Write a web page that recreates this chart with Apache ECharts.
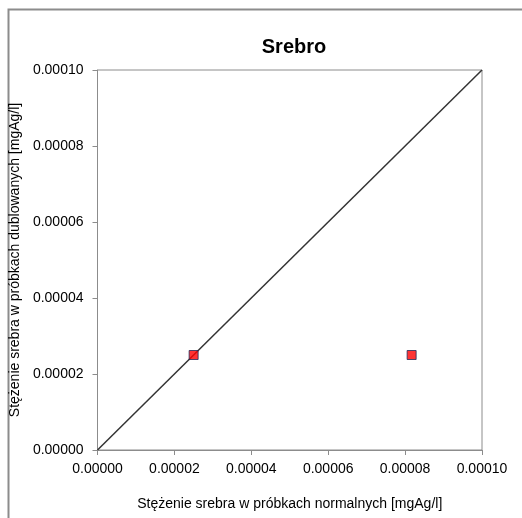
<!DOCTYPE html>
<html><head><meta charset="utf-8">
<script src="https://cdn.jsdelivr.net/npm/echarts@6/dist/echarts.min.js"></script>
<style>html,body{margin:0;padding:0;background:#fff}#c{width:522px;height:518px}</style>
</head><body><div id="c"></div>
<script>
const title = "Srebro";
const xName = "Stężenie srebra w próbkach normalnych [mgAg/l]";
const yName = "Stężenie srebra w próbkach dublowanych [mgAg/l]";
const normalne = [0.0000250, 0.0000817];
const dublowane = [0.0000250, 0.0000250];
const lineX = [0, 0.0001];
const lineY = [0, 0.0001];
const axisMin = 0, axisMax = 0.0001, axisStep = 0.00002;

const chart = echarts.init(document.getElementById('c'), null, {renderer:'canvas'});
const font = 'Liberation Sans, Arial, sans-serif';
chart.setOption({
  backgroundColor:'#fff',
  animation:false,
  title:{text:title,left:289,top:32,textAlign:'center',textStyle:{fontFamily:font,fontSize:20,fontWeight:'bold',color:'#000'}},
  graphic:[{type:'rect',shape:{x:8.5,y:9.5,width:700,height:700},style:{fill:'none',stroke:'#8c8c8c',lineWidth:2},silent:true,z:-1}],
  grid:{left:97,right:40,top:70,bottom:68,show:true,borderColor:'#8c8c8c',borderWidth:1},
  xAxis:{type:'value',min:axisMin,max:axisMax,interval:axisStep,
    name:xName,nameLocation:'middle',nameGap:47,
    nameTextStyle:{fontFamily:font,fontSize:14,color:'#000'},
    axisLine:{show:true,lineStyle:{color:'#8c8c8c'}},
    axisTick:{show:true,length:5,lineStyle:{color:'#8c8c8c'}},
    axisLabel:{fontFamily:font,fontSize:14,color:'#000',margin:12,formatter:v=>v.toFixed(5)},
    splitLine:{show:false}},
  yAxis:{type:'value',min:axisMin,max:axisMax,interval:axisStep,
    name:yName,nameLocation:'middle',nameGap:73,
    nameTextStyle:{fontFamily:font,fontSize:14,color:'#000'},
    axisLine:{show:true,lineStyle:{color:'#8c8c8c'}},
    axisTick:{show:true,length:5,lineStyle:{color:'#8c8c8c'}},
    axisLabel:{fontFamily:font,fontSize:14,color:'#000',margin:14,formatter:v=>v.toFixed(5)},
    splitLine:{show:false}},
  series:[
    {type:'line',data:lineX.map((x,i)=>[x,lineY[i]]),symbol:'none',lineStyle:{color:'#333',width:1.5},z:2},
    {type:'scatter',data:normalne.map((x,i)=>[x,dublowane[i]]),symbol:'rect',symbolSize:9,
     itemStyle:{color:'#ff0000',borderColor:'#1f2a5a',borderWidth:1},z:3}
  ]
});
</script></body></html>
